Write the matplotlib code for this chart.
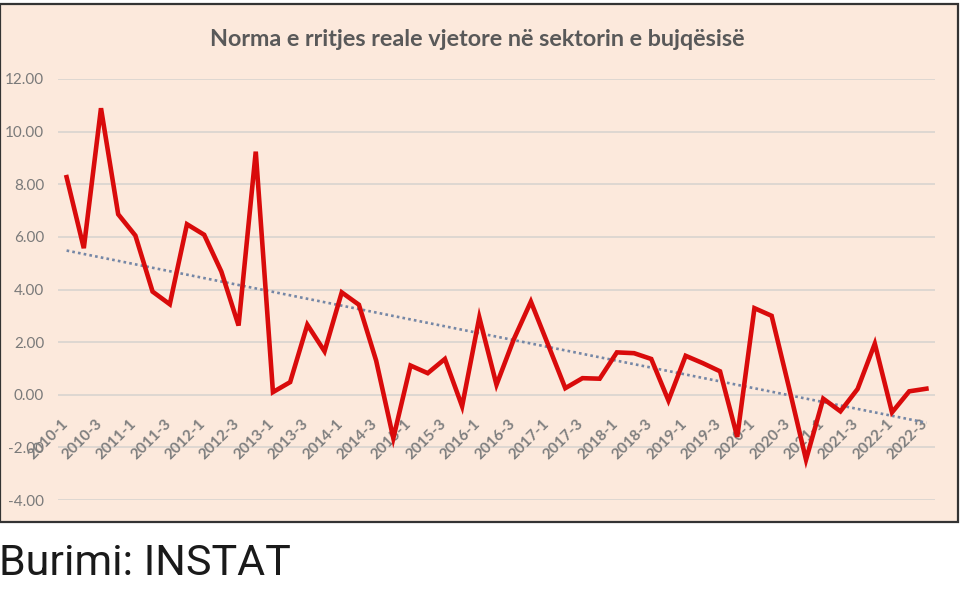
import matplotlib
matplotlib.use("Agg")
import matplotlib.pyplot as plt
import numpy as np
from matplotlib.patches import Rectangle
import matplotlib.transforms as mtransforms

quarters = [f"{y}-{q}" for y in range(2010, 2023) for q in range(1, 5)][:51]
growth = [8.27, 5.57, 10.89, 6.86, 6.05, 3.92, 3.44, 6.48, 6.08, 4.68, 2.63, 9.24,
          0.10, 0.48, 2.66, 1.65, 3.89, 3.42, 1.30, -1.65, 1.11, 0.82, 1.36, -0.44,
          2.94, 0.38, 2.10, 3.54, 1.90, 0.25, 0.63, 0.61, 1.61, 1.58, 1.36, -0.22,
          1.48, 1.20, 0.89, -1.60, 3.29, 3.00, 0.30, -2.47, -0.15, -0.63, 0.22, 1.94,
          -0.67, 0.13, 0.23]
yticks = [-4, -2, 0, 2, 4, 6, 8, 10, 12]

title = "Norma e rritjes reale vjetore në sektorin e bujqësisë"
source = "Burimi: INSTAT"

W, H = 960, 589
fig = plt.figure(figsize=(W / 100, H / 100), dpi=100)
fig.patch.set_facecolor("white")

# peach chart area with dark frame
bg = Rectangle((0 / W, 1 - 522 / H), 958 / W, (522 - 4) / H, transform=fig.transFigure,
               facecolor="#FCE9DC", edgecolor="#333333", linewidth=1.6, zorder=-1)
fig.patches.append(bg)

ax = fig.add_axes([58 / W, (H - 500) / H, 877 / W, 421 / H])
ax.set_zorder(1)
ax.set_facecolor("none")
x = np.arange(len(growth))

ax.plot(x, growth, color="#D90B0B", linewidth=3.3, solid_joinstyle="miter", zorder=3)

# linear trend line like Excel's
k, b = np.polyfit(x, growth, 1)
ax.plot(x, k * x + b, color="#7587A6", linewidth=1.9, linestyle=(0, (1, 1.2)), zorder=2)

ax.set_xlim(-0.5, len(growth) - 0.5)
ax.set_ylim(-4, 12)
ax.set_yticks(yticks)
ax.set_yticklabels([f"{v:.2f}" for v in yticks], fontsize=11, color="#7A7A7A",
                   fontfamily="Lato")
ax.yaxis.grid(True, color="#D9D4CF", linewidth=1.2)
ax.set_axisbelow(True)
ax.tick_params(axis="y", length=0, pad=10)
ax.set_xticks([])
for s in ax.spines.values():
    s.set_visible(False)

# category labels hang below the zero line, every second quarter
offset = mtransforms.ScaledTranslation(-0.7 / 72, -19.4 / 72, fig.dpi_scale_trans)
for i in range(0, len(quarters), 2):
    ax.text(i, 0, quarters[i], transform=ax.transData + offset, rotation=45,
            rotation_mode="anchor", ha="right", va="center", fontsize=11,
            fontweight="bold", color="#7F7F7F", fontfamily="Lato", zorder=1)

fig.text(477 / W, 1 - 40 / H, title, ha="center", va="center", fontsize=16.8,
         fontweight="bold", color="#595959", fontfamily="Lato")

fig.text(-1 / W, 1 - 575 / H, source, ha="left", va="baseline", fontsize=31,
         color="#1A1A1A", fontfamily="Roboto")

fig.savefig("out.png", dpi=100, facecolor=fig.get_facecolor())
